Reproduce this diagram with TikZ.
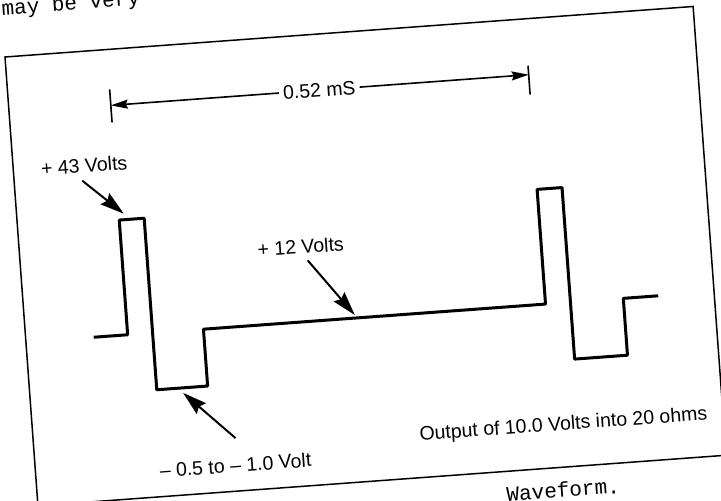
\documentclass[tikz,border=0pt]{standalone}
\usepackage{fontspec}
\setsansfont{Liberation Sans}
\setmonofont{Liberation Mono}
\usetikzlibrary{arrows.meta}
\tikzset{
  wave/.style={line width=3pt, line join=round},
  pointer/.style={line width=2pt, -{Stealth[length=24pt,width=14pt,inset=3pt]}},
  dimline/.style={line width=1.6pt, -{Stealth[length=17pt,width=9pt,inset=2pt]}},
  lbl/.style={font=\sffamily\fontsize{19.5}{22}\selectfont, inner sep=0pt, transform shape},
  pagetext/.style={font=\ttfamily\fontsize{21}{24}\selectfont, inner sep=0pt, anchor=base west, transform shape}
}
\begin{document}
\begin{tikzpicture}[x=1pt,y=-1pt]
\useasboundingbox (0,0) rectangle (721,501);
\clip (0,0) rectangle (721,501);
\begin{scope}[shift={(5,57)}, rotate=4.2]
% page text round the figure
\node[pagetext] (above) at (0,-42) {may be very};
\node[pagetext] (below) at (468,480) {Waveform.};
% frame
\draw[line width=1.5pt] (0,0) rectangle (690,450);
% waveform
\draw[wave] (68,286) -- (102,286) -- (102,171) -- (127,171) -- (127,343)
  -- (178,343) -- (178,286) -- (521,286) -- (521,171) -- (546,171)
  -- (546,343) -- (599,343) -- (599,286) -- (634,286);
% period
\coordinate (dl) at (102,56);
\coordinate (dr) at (521,56);
\draw[line width=1.6pt] (102,40) -- (102,73);
\draw[line width=1.6pt] (521,47) -- (521,76);
\node[lbl, inner sep=4pt] (period) at (311,56) {0.52 mS};
\draw[dimline] (period.west) -- (dl);
\draw[dimline] (period.east) -- (dr);
% labels
\node[lbl] (v43) at (71,114) {+ 43 Volts};
\coordinate (v43tail) at (68,129);
\coordinate (v43tip) at (107,165);
\draw[pointer] (v43tail) -- (v43tip);
\node[lbl] (v12) at (281,211) {+ 12 Volts};
\coordinate (v12tail) at (287,225);
\coordinate (v12tip) at (330,283);
\draw[pointer] (v12tail) -- (v12tip);
\node[lbl] (vneg) at (200,424) {-- 0.5 to -- 1.0 Volt};
\coordinate (vnegtail) at (202,397);
\coordinate (vnegtip) at (153,348);
\draw[pointer] (vnegtail) -- (vnegtip);
\node[lbl] (out) at (530,408) {Output of 10.0 Volts into 20 ohms};
\end{scope}
\end{tikzpicture}
\end{document}
